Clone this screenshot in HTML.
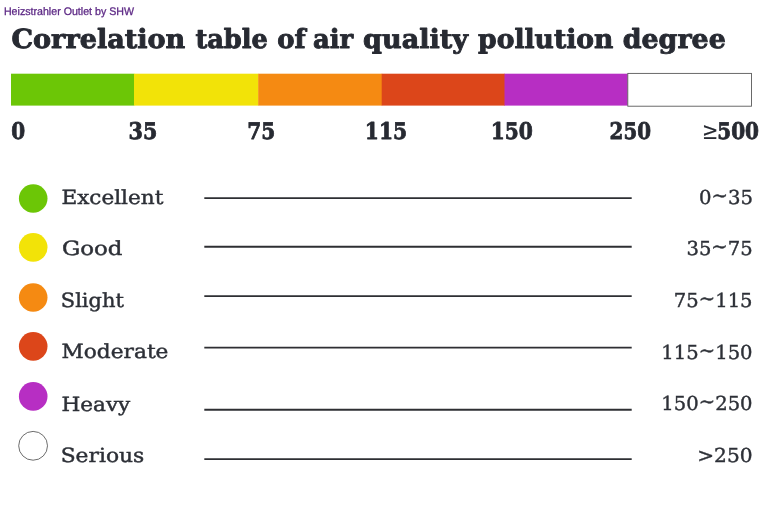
<!DOCTYPE html>
<html><head><meta charset="utf-8">
<title>Correlation table of air quality pollution degree</title>
<style>
html,body{margin:0;padding:0;background:#fff;}
body{width:773px;height:509px;overflow:hidden;}
svg{display:block}
text{text-rendering:geometricPrecision}
.t{font-family:"DejaVu Serif","Liberation Serif",serif;font-weight:bold;fill:#272a32;stroke:#272a32;stroke-linejoin:round}
.g{font-family:"DejaVu Serif","Liberation Serif",serif;fill:#272a32;stroke:#272a32}
.l{font-family:"DejaVu Serif","Liberation Serif",serif;fill:#2d3037;stroke:#2d3037}
.w{font-family:"Liberation Sans",sans-serif;fill:#5e2a86;stroke:#5e2a86}
</style></head><body>
<svg width="773" height="509" viewBox="0 0 773 509">
<rect width="773" height="509" fill="#fff"/>
<rect x="11" y="73.7" width="123.3" height="31.9" fill="#6cc606"/>
<rect x="134" y="73.7" width="124.5" height="31.9" fill="#f2e308"/>
<rect x="258.2" y="73.7" width="124" height="31.9" fill="#f58a12"/>
<rect x="381.7" y="73.7" width="123.3" height="31.9" fill="#dc461a"/>
<rect x="504.5" y="73.7" width="123.3" height="31.9" fill="#b72ec3"/>
<rect x="627.8" y="73.4" width="123.7" height="32.8" fill="#fff" stroke="#5a5a5a" stroke-width="0.9"/>
<circle cx="33.2" cy="198.5" r="14.3" fill="#6cc606"/>
<circle cx="33.2" cy="247.4" r="14.3" fill="#f2e308"/>
<circle cx="33.2" cy="297.5" r="14.3" fill="#f58a12"/>
<circle cx="33.2" cy="346.35" r="14.3" fill="#dc461a"/>
<circle cx="33.2" cy="396.4" r="14.3" fill="#b72ec3"/>
<circle cx="33.1" cy="445.8" r="14.4" fill="#fff" stroke="#484848" stroke-width="0.8"/>
<g stroke="#2e2f33" stroke-width="1.9"><line x1="204.3" y1="198.1" x2="631.7" y2="198.1"/><line x1="204.3" y1="246.75" x2="631.7" y2="246.75"/><line x1="204.3" y1="296.1" x2="631.7" y2="296.1"/><line x1="204.3" y1="347.6" x2="631.7" y2="347.6"/><line x1="204.3" y1="409.8" x2="631.7" y2="409.8"/><line x1="204.3" y1="459.15" x2="631.7" y2="459.15"/></g>
<text class="w" x="3.92" y="15.00" font-size="11" stroke-width="0.3" textLength="130.12" lengthAdjust="spacingAndGlyphs">Heizstrahler Outlet by SHW</text>
<text y="48"><tspan class="t" x="11.47" font-size="26.3" stroke-width="0.9" textLength="173.85" lengthAdjust="spacingAndGlyphs">Correlation</tspan> <tspan class="t" x="195.38" font-size="26.3" stroke-width="0.9" textLength="72.54" lengthAdjust="spacingAndGlyphs">table</tspan> <tspan class="t" x="277.15" font-size="26.3" stroke-width="0.9" textLength="28.40" lengthAdjust="spacingAndGlyphs">of</tspan> <tspan class="t" x="312.94" font-size="26.3" stroke-width="0.9" textLength="40.21" lengthAdjust="spacingAndGlyphs">air</tspan> <tspan class="t" x="363.08" font-size="26.3" stroke-width="0.9" textLength="104.84" lengthAdjust="spacingAndGlyphs">quality</tspan> <tspan class="t" x="478.12" font-size="26.3" stroke-width="0.9" textLength="135.27" lengthAdjust="spacingAndGlyphs">pollution</tspan> <tspan class="t" x="622.66" font-size="26.3" stroke-width="0.9" textLength="103.16" lengthAdjust="spacingAndGlyphs">degree</tspan></text>
<text class="t" x="11.29" y="139.00" font-size="22.9" stroke-width="0.8" textLength="13.90" lengthAdjust="spacingAndGlyphs">0</text>
<text class="t" x="128.55" y="139.00" font-size="22.9" stroke-width="0.8" textLength="28.78" lengthAdjust="spacingAndGlyphs">35</text>
<text class="t" x="247.21" y="139.00" font-size="22.9" stroke-width="0.8" textLength="28.11" lengthAdjust="spacingAndGlyphs">75</text>
<text class="t" x="364.76" y="139.00" font-size="22.9" stroke-width="0.8" textLength="42.54" lengthAdjust="spacingAndGlyphs">115</text>
<text class="t" x="490.69" y="139.00" font-size="22.9" stroke-width="0.8" textLength="42.26" lengthAdjust="spacingAndGlyphs">150</text>
<text class="t" x="609.59" y="139.00" font-size="22.9" stroke-width="0.8" textLength="41.42" lengthAdjust="spacingAndGlyphs">250</text>
<text y="139"><tspan class="g" x="702.05" font-size="23.5" stroke-width="0.2" textLength="16.25" lengthAdjust="spacingAndGlyphs">≥</tspan><tspan class="t" x="717.24" font-size="22.9" stroke-width="0.8" textLength="41.83" lengthAdjust="spacingAndGlyphs">500</tspan></text>
<text class="l" x="61.48" y="204.00" font-size="19.5" stroke-width="0.45" textLength="101.87" lengthAdjust="spacingAndGlyphs">Excellent</text>
<text class="l" x="61.92" y="255.00" font-size="19.5" stroke-width="0.45" textLength="60.59" lengthAdjust="spacingAndGlyphs">Good</text>
<text class="l" x="60.86" y="307.00" font-size="19.5" stroke-width="0.45" textLength="62.94" lengthAdjust="spacingAndGlyphs">Slight</text>
<text class="l" x="61.61" y="358.00" font-size="19.5" stroke-width="0.45" textLength="106.84" lengthAdjust="spacingAndGlyphs">Moderate</text>
<text class="l" x="61.46" y="411.00" font-size="19.5" stroke-width="0.45" textLength="68.87" lengthAdjust="spacingAndGlyphs">Heavy</text>
<text class="l" x="60.67" y="462.00" font-size="19.5" stroke-width="0.45" textLength="83.60" lengthAdjust="spacingAndGlyphs">Serious</text>
<text class="l" x="699.08" y="204.00" font-size="19.3" stroke-width="0.4" textLength="53.98" lengthAdjust="spacingAndGlyphs">0<tspan dy="-1.7">~</tspan><tspan dy="1.7">35</tspan></text>
<text class="l" x="686.43" y="255.00" font-size="19.3" stroke-width="0.4" textLength="66.30" lengthAdjust="spacingAndGlyphs">35<tspan dy="-1.7">~</tspan><tspan dy="1.7">75</tspan></text>
<text class="l" x="673.85" y="307.00" font-size="19.3" stroke-width="0.4" textLength="78.72" lengthAdjust="spacingAndGlyphs">75<tspan dy="-1.7">~</tspan><tspan dy="1.7">115</tspan></text>
<text class="l" x="661.37" y="359.00" font-size="19.3" stroke-width="0.4" textLength="91.20" lengthAdjust="spacingAndGlyphs">115<tspan dy="-1.7">~</tspan><tspan dy="1.7">150</tspan></text>
<text class="l" x="661.37" y="410.00" font-size="19.3" stroke-width="0.4" textLength="91.20" lengthAdjust="spacingAndGlyphs">150<tspan dy="-1.7">~</tspan><tspan dy="1.7">250</tspan></text>
<text class="l" x="697.24" y="462.00" font-size="19.3" stroke-width="0.4" textLength="55.35" lengthAdjust="spacingAndGlyphs">&gt;250</text>
</svg>
</body></html>
